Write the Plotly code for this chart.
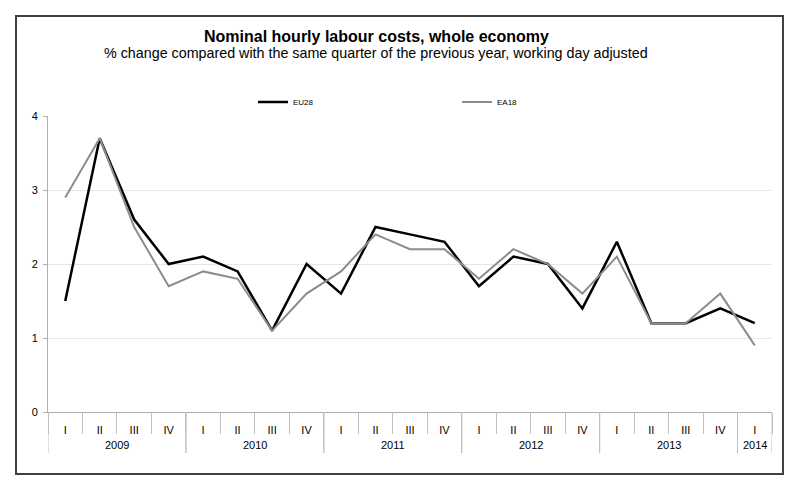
import plotly.graph_objects as go

years = ["2009"] * 4 + ["2010"] * 4 + ["2011"] * 4 + ["2012"] * 4 + ["2013"] * 4 + ["2014"]
quarters = ["I", "II", "III", "IV"] * 5 + ["I"]
eu28 = [1.5, 3.7, 2.6, 2.0, 2.1, 1.9, 1.1, 2.0, 1.6, 2.5, 2.4, 2.3, 1.7, 2.1, 2.0, 1.4, 2.3, 1.2, 1.2, 1.4, 1.2]
ea18 = [2.9, 3.7, 2.5, 1.7, 1.9, 1.8, 1.1, 1.6, 1.9, 2.4, 2.2, 2.2, 1.8, 2.2, 2.0, 1.6, 2.1, 1.2, 1.2, 1.6, 0.9]
y_ticks = [0, 1, 2, 3, 4]

title = "Nominal hourly labour costs, whole economy"
subtitle = "% change compared with the same quarter of the previous year, working day adjusted"

FONT = "Liberation Sans, Arial, sans-serif"

idx = list(range(len(quarters)))
boundaries = [i - 0.5 for i in idx] + [len(idx) - 0.5]

# year groups (start, end index)
groups = []
for i, yv in enumerate(years):
    if groups and groups[-1][0] == yv:
        groups[-1][2] = i
    else:
        groups.append([yv, i, i])

fig = go.Figure()
fig.add_trace(go.Scatter(x=idx, y=eu28, name="EU28", mode="lines",
                         line=dict(color="#000000", width=2.5)))
fig.add_trace(go.Scatter(x=idx, y=ea18, name="EA18", mode="lines",
                         line=dict(color="#8c8c8c", width=2)))

L, R, T, B = 48, 20, 116, 84
W, H = 792, 496
pw = W - L - R
ph = H - T - B

def px(x):
    return (x - L) / pw

def py(y):
    return (H - B - y) / ph

annotations = [
    dict(text="<b>" + title + "</b>", x=px(376), y=py(36), xref="paper", yref="paper",
         showarrow=False, font=dict(size=16, family=FONT, color="#000000"),
         xanchor="center", yanchor="middle"),
    dict(text=subtitle, x=px(376), y=py(53), xref="paper", yref="paper",
         showarrow=False, font=dict(size=14.3, family=FONT, color="#000000"),
         xanchor="center", yanchor="middle"),
]
shapes = [
    dict(type="rect", xref="paper", yref="paper", x0=px(16), x1=px(783), y0=py(474), y1=py(16),
         line=dict(color="#404040", width=2), fillcolor="rgba(0,0,0,0)", layer="below"),
]
for name, s, e in groups:
    annotations.append(dict(text=name, x=(s + e) / 2, y=py(445), xref="x", yref="paper",
                            showarrow=False, font=dict(size=11, family=FONT, color="#000000"),
                            xanchor="center", yanchor="middle"))
    for bx in (s - 0.5, e + 0.5):
        shapes.append(dict(type="line", xref="x", yref="paper", x0=bx, x1=bx, y0=0, y1=py(453),
                           line=dict(color="#c0c0c0", width=1)))

fig.update_layout(
    template="none",
    width=W, height=H,
    margin=dict(l=L, r=R, t=T, b=B, autoexpand=False),
    paper_bgcolor="white", plot_bgcolor="white",
    font=dict(family=FONT, size=11, color="#000000"),
    showlegend=True,
    legend=dict(orientation="h", x=px(253), y=py(102), xanchor="left", yanchor="middle",
                entrywidth=159, entrywidthmode="pixels", font=dict(size=8, color="#000000"),
                bgcolor="rgba(0,0,0,0)", itemwidth=30),
    xaxis=dict(range=[-0.5, len(idx) - 0.5], automargin=False, tickvals=idx, ticktext=quarters,
               showgrid=False, showline=True, linecolor="#b0b0b0", linewidth=1,
               ticks="", ticklabelstandoff=8, zeroline=False,
               minor=dict(tickvals=boundaries, ticks="outside", ticklen=21, tickcolor="#c0c0c0",
                          showgrid=False),
               tickfont=dict(size=11, color="#000000")),
    yaxis=dict(range=[0, 4], tickvals=y_ticks, automargin=False,
               showgrid=True, gridcolor="#e6e6e6", gridwidth=1,
               showline=True, linecolor="#b0b0b0", linewidth=1, ticks="outside", ticklen=4,
               tickcolor="#b0b0b0", zeroline=False, ticklabelstandoff=3,
               tickfont=dict(size=11, color="#000000")),
    annotations=annotations,
    shapes=shapes,
)

fig.write_html("out.html", post_script="document.body.style.margin='0';",
               config={"displayModeBar": False})
